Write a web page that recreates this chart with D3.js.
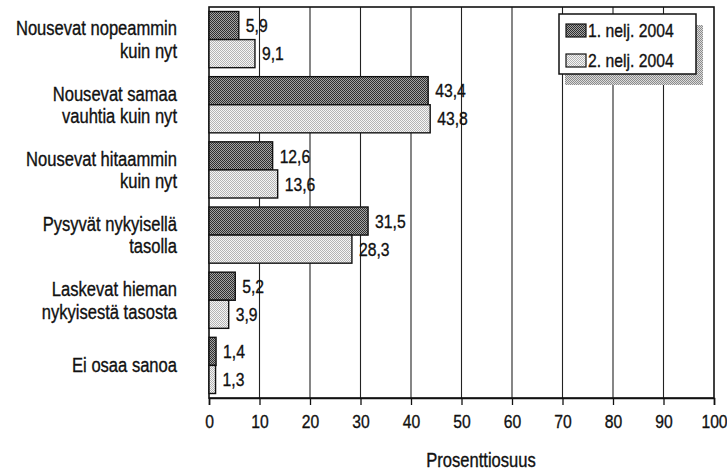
<!DOCTYPE html>
<html><head><meta charset="utf-8">
<script src="https://cdn.jsdelivr.net/npm/d3@7/dist/d3.min.js"></script>
<style>
body{margin:0;background:#fff;}
text{font-family:"Liberation Sans",Arial,sans-serif;fill:#111;stroke:#111;stroke-width:0.35px;}
</style></head>
<body><svg id="c" width="727" height="472"></svg>
<script>
const categories = [
  ["Nousevat nopeammin","kuin nyt"],
  ["Nousevat samaa","vauhtia kuin nyt"],
  ["Nousevat hitaammin","kuin nyt"],
  ["Pysyvät nykyisellä","tasolla"],
  ["Laskevat hieman","nykyisestä tasosta"],
  ["Ei osaa sanoa"]
];
const seriesNames = ["1. nelj. 2004","2. nelj. 2004"];
const q1 = [5.9, 43.4, 12.6, 31.5, 5.2, 1.4];
const q2 = [9.1, 43.8, 13.6, 28.3, 3.9, 1.3];
const xTicks = [0,10,20,30,40,50,60,70,80,90,100];
const axisTitle = "Prosenttiosuus";

const SX = 0.85; // condensed look
const svg = d3.select("#c");
const defs = svg.append("defs");
function pat(id, bg, fg){
  const p = defs.append("pattern").attr("id",id).attr("width",2).attr("height",2).attr("patternUnits","userSpaceOnUse");
  p.append("rect").attr("width",2).attr("height",2).attr("fill",bg);
  p.append("rect").attr("width",1).attr("height",1).attr("fill",fg);
  p.append("rect").attr("x",1).attr("y",1).attr("width",1).attr("height",1).attr("fill",fg);
}
pat("pDark","#a4a4a4","#2e2e2e");
pat("pLight","#f6f6f6","#b4b4b4");
pat("pShadow","#dcdcdc","#8c8c8c");
const fills = ["url(#pDark)","url(#pLight)"];

function ctext(parent, x, y, str, size, anchor){
  return parent.append("text")
    .attr("transform",`translate(${x},${y}) scale(${SX},1)`)
    .attr("text-anchor",anchor||"start").attr("font-size",size).text(str);
}

const L=209, R=714, T=7, B=398;
const x = d3.scaleLinear().domain([0,100]).range([L,R]);
const y = d3.scaleBand().domain(d3.range(categories.length)).range([T,B]).paddingInner(0.138).paddingOuter(0.069);
const ys = d3.scaleBand().domain([0,1]).range([0,y.bandwidth()]);

// gridlines
svg.append("g").selectAll("line").data(xTicks.slice(1,-1)).join("line")
  .attr("x1",d=>x(d)).attr("x2",d=>x(d)).attr("y1",T).attr("y2",B)
  .attr("stroke","#222").attr("stroke-width",1.1);

// frame
svg.append("rect").attr("x",L).attr("y",T).attr("width",R-L).attr("height",B-T)
  .attr("fill","none").attr("stroke","#111").attr("stroke-width",1.6);

// axis
const ax = svg.append("g").attr("transform",`translate(0,${B})`)
  .call(d3.axisBottom(x).tickValues(xTicks).tickSize(7).tickPadding(10).tickFormat(d3.format("d")));
ax.select(".domain").attr("stroke","#111").attr("stroke-width",1.6);
ax.selectAll(".tick line").attr("stroke","#111").attr("stroke-width",1.3);
ax.selectAll(".tick text").attr("font-size",18.5).attr("font-family",null).attr("fill","#111")
  .attr("transform",`scale(${SX},1)`);

const data = [q1,q2];
const fmt = v => String(v.toFixed(1)).replace(".",",");
data.forEach((arr,si)=>{
  const g = svg.append("g");
  g.selectAll("rect").data(arr).join("rect")
    .attr("x",x(0)).attr("y",(d,i)=>y(i)+ys(si))
    .attr("width",d=>x(d)-x(0)).attr("height",ys.bandwidth())
    .attr("fill",fills[si]).attr("stroke","#111").attr("stroke-width",1.4);
  arr.forEach((d,i)=>{
    ctext(g, x(d)+7, y(i)+ys(si)+ys.bandwidth()/2, fmt(d), 18.5).attr("dy","0.36em");
  });
});

// category labels
const lab = svg.append("g");
categories.forEach((lines,i)=>{
  const cy = y(i)+y.bandwidth()/2;
  const lh = 22.5;
  lines.forEach((s,j)=>{
    ctext(lab, 177, cy + (j-(lines.length-1)/2)*lh, s, 19.5, "end").attr("dy","0.36em");
  });
});

// axis title
ctext(svg, 481, 467, axisTitle, 19.5, "middle");

// legend
const lg = svg.append("g");
lg.append("rect").attr("x",565).attr("y",25).attr("width",138).attr("height",60).attr("fill","url(#pShadow)");
lg.append("rect").attr("x",559).attr("y",14).attr("width",137).attr("height",60).attr("fill","#fff").attr("stroke","#111").attr("stroke-width",1.5);
seriesNames.forEach((s,i)=>{
  const by = 37 + i*30;
  lg.append("rect").attr("x",566).attr("y",by-13).attr("width",20).attr("height",13)
    .attr("fill",fills[i]).attr("stroke","#111").attr("stroke-width",1.2);
  ctext(lg, 588, by, s, 18.5);
});
</script></body></html>
